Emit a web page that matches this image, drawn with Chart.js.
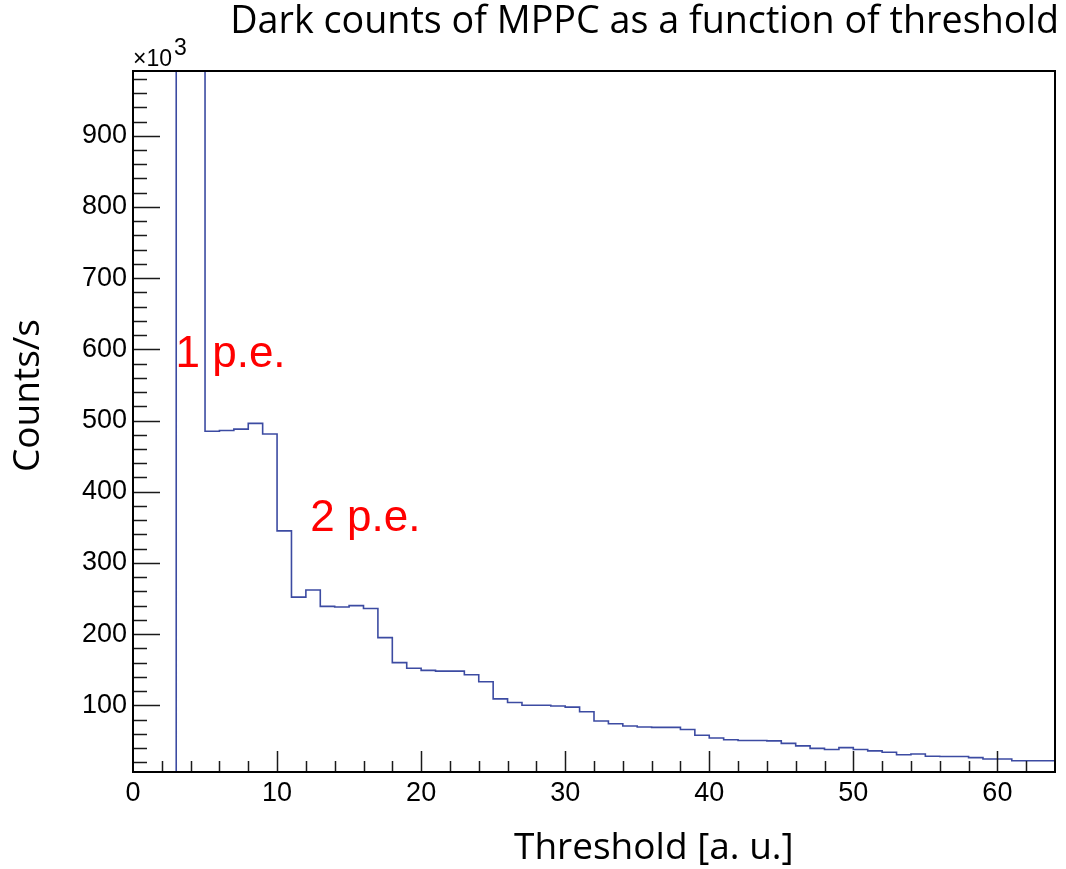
<!DOCTYPE html>
<html>
<head>
<meta charset="utf-8">
<script src="https://cdn.jsdelivr.net/npm/chart.js@4"></script>
<style>
  html, body { margin: 0; padding: 0; background: #fff; }
  #wrap { width: 1066px; height: 869px; position: relative; }
</style>
</head>
<body>
<div id="wrap"><canvas id="darkChart"></canvas></div>
<script>
// bin edges of the threshold histogram (64 bins of width 1)
const binEdges = [0, 1, 2, 3, 4, 5, 6, 7, 8, 9, 10, 11, 12, 13, 14, 15, 16, 17, 18, 19, 20,
    21, 22, 23, 24, 25, 26, 27, 28, 29, 30, 31, 32, 33, 34, 35, 36, 37, 38, 39, 40,
    41, 42, 43, 44, 45, 46, 47, 48, 49, 50, 51, 52, 53, 54, 55, 56, 57, 58, 59, 60,
    61, 62, 63, 64];

// counts/s per bin (bins 3 and 4 go off scale)
const darkCounts = [0, 0, 0, 1200000, 1200000, 485000, 486000, 488000, 496000, 481000,
    345000, 252000, 262000, 239000, 238000, 240000, 236000, 195000, 160000, 152000,
    149000, 148000, 148000, 143000, 133000, 109000, 104000, 100000, 100000, 99000,
    97500, 91000, 78000, 74000, 71000, 69500, 69000, 69000, 66000, 58000,
    54000, 51500, 50500, 50500, 50000, 46500, 43000, 39500, 38000, 40500,
    38000, 36000, 34000, 30500, 31500, 28500, 28000, 28000, 26500, 24500,
    24500, 22000, 22000, 22000];

const xTicks = [0, 10, 20, 30, 40, 50, 60];
const yTicks = [100000, 200000, 300000, 400000, 500000, 600000, 700000, 800000, 900000];

const titleText = 'Dark counts of MPPC as a function of threshold';
const xTitle = 'Threshold [a. u.]';
const yTitle = 'Counts/s';

// peak labels, placed in data coordinates
const peakText = ['1 p.e.', '2 p.e.'];
const peakX = [2.95, 12.31];
const peakY = [575000, 345000];

const histPoints = binEdges.map((e, i) => ({ x: e, y: darkCounts[Math.min(i, darkCounts.length - 1)] }));

const rootStyle = {
    id: 'rootStyle',
    beforeDraw(chart) {
        const ctx = chart.ctx;
        ctx.save();
        ctx.fillStyle = '#fff';
        ctx.fillRect(0, 0, chart.width, chart.height);
        ctx.restore();
    },
    afterDatasetsDraw(chart) {
        const { ctx, chartArea: a, scales: { x, y } } = chart;
        ctx.save();
        ctx.strokeStyle = '#1a1a1a';
        ctx.lineWidth = 1.5;

        // y ticks (drawn inwards, ROOT style)
        ctx.beginPath();
        for (let v = 20000; v < y.max; v += 20000) {
            if (v < y.min) continue;
            const py = Math.round(y.getPixelForValue(v)) + 0.5;
            const len = (v % 100000 === 0) ? 27 : 14;
            ctx.moveTo(a.left, py);
            ctx.lineTo(a.left + len, py);
        }
        // x ticks
        for (let v = 2; v < x.max; v += 2) {
            const px = Math.round(x.getPixelForValue(v)) + 0.5;
            const len = (v % 10 === 0) ? 21 : 11;
            ctx.moveTo(px, a.bottom);
            ctx.lineTo(px, a.bottom - len);
        }
        ctx.stroke();

        // frame
        ctx.lineWidth = 2;
        ctx.strokeStyle = '#000';
        ctx.strokeRect(a.left, a.top, a.right - a.left, a.bottom - a.top);
        ctx.restore();
    },
    afterDraw(chart) {
        const { ctx, chartArea: a, scales: { x, y } } = chart;
        ctx.save();
        ctx.fillStyle = '#000';

        // title, right aligned
        ctx.font = '37.7px "Open Sans"';
        ctx.textAlign = 'right';
        ctx.textBaseline = 'alphabetic';
        ctx.fillText(titleText, 1059, 33);

        // x10^3 multiplier
        ctx.textAlign = 'left';
        ctx.font = '23px "Liberation Sans"';
        ctx.fillText('\u00d710', a.left, 66);
        ctx.fillText('3', a.left + 41, 55);

        // axis titles
        ctx.font = '37px "Open Sans"';
        ctx.fillText(xTitle, 514, 859);
        ctx.save();
        ctx.translate(39, 472);
        ctx.rotate(-Math.PI / 2);
        ctx.fillText(yTitle, 0, 0);
        ctx.restore();

        // peak labels
        ctx.fillStyle = '#ff0000';
        ctx.font = '44px "Liberation Sans"';
        peakText.forEach((t, i) => {
            ctx.fillText(t, x.getPixelForValue(peakX[i]), y.getPixelForValue(peakY[i]));
        });
        ctx.restore();
    }
};

document.addEventListener('DOMContentLoaded', () => {
    const ctx = document.getElementById('darkChart');
    window.darkChart = new Chart(ctx.getContext('2d'), {
        type: 'line',
        data: {
            datasets: [{
                data: histPoints,
                stepped: 'before',
                borderColor: '#3c4ba2',
                borderWidth: 1.6,
                pointRadius: 0,
                fill: false,
                tension: 0
            }]
        },
        options: {
            responsive: true,
            maintainAspectRatio: false,
            animation: false,
            layout: { padding: { top: 71, right: 11, bottom: 0, left: 0 } },
            plugins: {
                legend: { display: false },
                tooltip: { enabled: false },
                title: { display: false }
            },
            scales: {
                x: {
                    type: 'linear',
                    min: 0,
                    max: 64,
                    grid: { display: false, drawTicks: false },
                    border: { display: false },
                    afterBuildTicks: (scale) => { scale.ticks = xTicks.map(v => ({ value: v })); },
                    afterFit: (scale) => { scale.height = 97; },
                    ticks: {
                        color: '#000',
                        padding: 5,
                        maxRotation: 0,
                        autoSkip: false,
                        font: { family: '"Liberation Sans"', size: 27 }
                    }
                },
                y: {
                    type: 'linear',
                    min: 6300,
                    max: 991000,
                    grid: { display: false, drawTicks: false },
                    border: { display: false },
                    afterBuildTicks: (scale) => { scale.ticks = yTicks.map(v => ({ value: v })); },
                    afterFit: (scale) => { scale.width = 133; },
                    ticks: {
                        color: '#000',
                        padding: 6,
                        autoSkip: false,
                        font: { family: '"Liberation Sans"', size: 27 },
                        callback: (v) => String(v / 1000)
                    }
                }
            }
        },
        plugins: [rootStyle]
    });
});
</script>
</body>
</html>
